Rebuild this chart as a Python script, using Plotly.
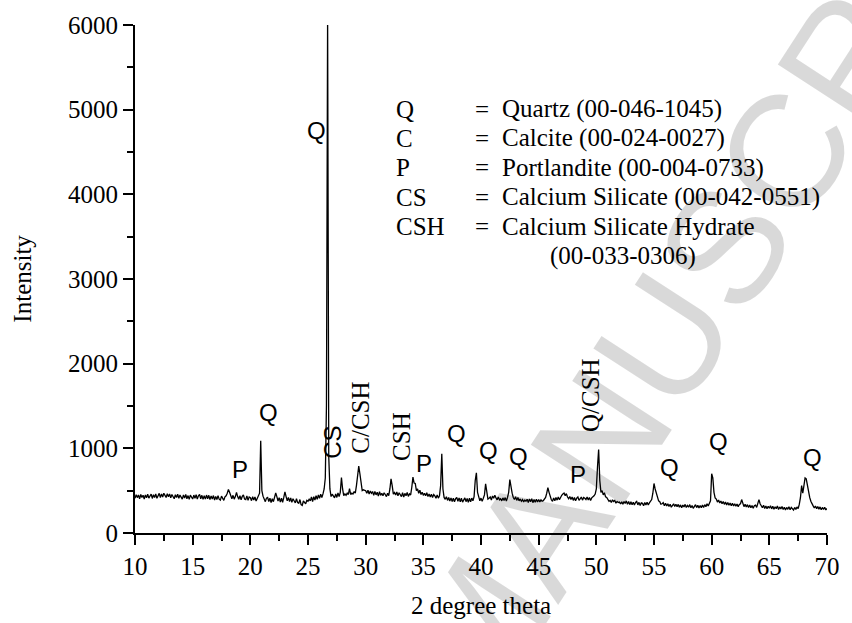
import plotly.graph_objects as go

# ---------------- data ----------------
two_theta_start = 10.0
two_theta_step = 0.1
intensity = [
    # 10.x
    410, 452, 418, 448, 405, 455, 420, 446, 402, 450,
    # 11.x
    415, 458, 412, 445, 460, 408, 452, 420, 462, 410,
    # 12.x
    440, 468, 418, 462, 425, 470, 445, 420, 465, 428,
    # 13.x
    460, 415, 455, 430, 405, 452, 418, 458, 410, 448,
    # 14.x
    425, 400, 450, 412, 455, 405, 442, 398, 448, 415,
    # 15.x
    402, 448, 410, 452, 400, 440, 455, 405, 445, 398,
    # 16.x
    440, 400, 448, 405, 445, 396, 438, 402, 442, 390,
    # 17.x
    432, 395, 440, 400, 388, 435, 398, 385, 428, 440,
    # 18.x
    470, 515, 480, 425, 405, 445, 400, 430, 478, 430,
    # 19.x
    398, 440, 392, 432, 450, 400, 395, 438, 385, 425,
    # 20.x
    418, 382, 428, 390, 425, 378, 415, 432, 470, 1090,
    # 21.x
    500, 435, 392, 370, 412, 420, 372, 410, 360, 405,
    # 22.x
    370, 415, 472, 430, 378, 418, 365, 410, 362, 420,
    # 23.x
    485, 430, 380, 420, 372, 415, 362, 405, 372, 355,
    # 24.x
    405, 360, 352, 395, 335, 325, 378, 365, 345, 385,
    # 25.x
    375, 400, 380, 425, 372, 428, 390, 440, 398, 450,
    # 26.x
    410, 458, 420, 462, 520, 650, 1500, 6100, 900, 520,
    # 27.x
    430, 458, 440, 415, 462, 420, 472, 430, 480, 655,
    # 28.x
    520, 440, 462, 445, 470, 455, 525, 455, 470, 460,
    # 29.x
    490, 470, 560, 720, 790, 700, 560, 500, 510, 505,
    # 30.x
    500, 470, 505, 460, 495, 470, 490, 445, 492, 450,
    # 31.x
    482, 435, 488, 445, 470, 440, 475, 455, 430, 470,
    # 32.x
    440, 520, 640, 560, 460, 478, 448, 485, 440, 475,
    # 33.x
    455, 430, 475, 425, 468, 440, 478, 432, 462, 450,
    # 34.x
    540, 660, 590, 585, 500, 520, 470, 505, 455, 480,
    # 35.x
    445, 470, 440, 475, 430, 462, 425, 458, 420, 455,
    # 36.x
    438, 410, 450, 412, 440, 560, 935, 520, 420, 398,
    # 37.x
    428, 385, 420, 378, 415, 372, 410, 370, 405, 420,
    # 38.x
    375, 415, 368, 410, 365, 402, 415, 370, 408, 362,
    # 39.x
    410, 368, 412, 380, 430, 620, 710, 480, 420, 380,
    # 40.x
    412, 375, 410, 450, 580, 470, 400, 410, 425, 390,
    # 41.x
    438, 410, 445, 415, 392, 425, 392, 405, 380, 415,
    # 42.x
    385, 418, 378, 420, 480, 630, 520, 470, 420, 395,
    # 43.x
    428, 385, 420, 380, 402, 375, 395, 368, 390, 375,
    # 44.x
    398, 360, 402, 368, 405, 358, 395, 362, 400, 365,
    # 45.x
    395, 368, 392, 375, 382, 398, 420, 470, 535, 480,
    # 46.x
    420, 392, 375, 415, 380, 420, 388, 425, 392, 430,
    # 47.x
    445, 462, 472, 440, 465, 425, 405, 432, 395, 425,
    # 48.x
    385, 420, 380, 412, 425, 385, 415, 425, 388, 420,
    # 49.x
    410, 395, 425, 390, 420, 385, 415, 425, 440, 460,
    # 50.x
    520, 780, 985, 620, 480, 500, 450, 475, 428, 420,
    # 51.x
    392, 375, 385, 360, 392, 372, 385, 352, 372, 360,
    # 52.x
    365, 342, 368, 340, 372, 350, 380, 338, 372, 335,
    # 53.x
    368, 335, 362, 330, 360, 372, 332, 362, 325, 355,
    # 54.x
    350, 322, 360, 332, 362, 330, 355, 372, 395, 470,
    # 55.x
    585, 520, 470, 440, 380, 370, 340, 345, 358, 322,
    # 56.x
    352, 318, 345, 312, 340, 305, 335, 345, 312, 340,
    # 57.x
    310, 338, 305, 332, 298, 330, 308, 338, 302, 325,
    # 58.x
    305, 335, 298, 325, 292, 322, 335, 300, 328, 295,
    # 59.x
    325, 298, 330, 302, 335, 310, 345, 318, 350, 380,
    # 60.x
    700, 650, 480, 415, 400, 365, 390, 355, 378, 345,
    # 61.x
    372, 338, 365, 332, 360, 328, 355, 322, 352, 320,
    # 62.x
    345, 315, 342, 310, 338, 345, 395, 335, 312, 338,
    # 63.x
    308, 335, 300, 330, 298, 325, 292, 322, 330, 302,
    # 64.x
    340, 395, 345, 312, 298, 328, 290, 318, 288, 315,
    # 65.x
    292, 322, 285, 315, 280, 310, 288, 318, 278, 308,
    # 66.x
    285, 312, 278, 305, 272, 302, 280, 310, 275, 302,
    # 67.x
    282, 272, 302, 278, 308, 288, 340, 420, 560, 470,
    # 68.x
    560, 650, 640, 560, 470, 420, 375, 335, 320, 295,
    # 69.x
    318, 288, 312, 282, 308, 275, 302, 278, 305, 272,
    # 70.0
    290,
]
two_theta = [round(two_theta_start + i * two_theta_step, 2) for i in range(len(intensity))]

x_ticks = [10, 15, 20, 25, 30, 35, 40, 45, 50, 55, 60, 65, 70]
y_ticks = [0, 1000, 2000, 3000, 4000, 5000, 6000]

peak_labels = ["P", "Q", "Q", "CS", "C/CSH", "CSH", "P", "Q", "Q", "Q", "P", "Q/CSH", "Q", "Q", "Q"]
peak_label_x = [19.12, 21.57, 25.71, 27.16, 29.56, 33.15, 35.04, 37.86, 40.69, 43.26, 48.39, 49.51, 56.35, 60.63, 68.76]
peak_label_y = [750, 1427, 4749, 1076, 1357, 1135, 818, 1181, 971, 900, 690, 1626, 772, 1076, 889]

key_abbr = ["Q", "C", "P", "CS", "CSH"]
key_desc = ["Quartz (00-046-1045)", "Calcite (00-024-0027)", "Portlandite (00-004-0733)",
            "Calcium Silicate (00-042-0551)", "Calcium Silicate Hydrate"]
key_extra = "(00-033-0306)"

# ---------------- layout helpers ----------------
W, H = 852, 623
L, R, T, B = 135, 15, 20, 90
PW, PH = W - L - R, H - T - B


def px(xp):
    return (xp - L) / PW


def py(yp):
    return (T + PH - yp) / PH


SERIF = "Liberation Serif, Times New Roman, serif"
SANS = "Liberation Sans, Arial, sans-serif"

fig = go.Figure()
fig.add_trace(go.Scatter(x=two_theta, y=intensity, mode="lines",
                         line=dict(color="black", width=1.3), showlegend=False,
                         hoverinfo="skip"))

ann = []
# watermark
ann.append(dict(text="MANUSCRIPT", xref="paper", yref="paper", x=px(736), y=py(240),
                xanchor="center", yanchor="middle", showarrow=False, textangle=-57,
                font=dict(family=SANS, size=160, color="rgba(0,0,0,0.15)")))

serif_rot = {"C/CSH", "CSH", "Q/CSH"}
for t, xv, yv in zip(peak_labels, peak_label_x, peak_label_y):
    if t in serif_rot:
        f, ang = dict(family=SERIF, size=25, color="black"), -90
    elif t == "CS":
        f, ang = dict(family=SANS, size=24, color="black"), -90
    else:
        f, ang = dict(family=SANS, size=24, color="black"), 0
    ann.append(dict(text=t, x=xv, y=yv, xref="x", yref="y", showarrow=False,
                    xanchor="center", yanchor="middle", textangle=ang, font=f))

kf = dict(family=SERIF, size=25, color="black")
for i, (a, d) in enumerate(zip(key_abbr, key_desc)):
    yy = py(105 + 29.6 * i)
    ann.append(dict(text=a, xref="paper", yref="paper", x=px(398), y=yy, xanchor="left",
                    yanchor="middle", showarrow=False, font=kf))
    ann.append(dict(text="=", xref="paper", yref="paper", x=px(478), y=yy, xanchor="left",
                    yanchor="middle", showarrow=False, font=kf))
    ann.append(dict(text=d, xref="paper", yref="paper", x=px(505), y=yy, xanchor="left",
                    yanchor="middle", showarrow=False, font=kf))
ann.append(dict(text=key_extra, xref="paper", yref="paper", x=px(630), y=py(105 + 29.6 * 5),
                xanchor="center", yanchor="middle", showarrow=False, font=kf))

# axis titles
ann.append(dict(text="Intensity", xref="paper", yref="paper", x=px(20), y=0.5, textangle=-90,
                xanchor="center", yanchor="middle", showarrow=False, font=kf))
ann.append(dict(text="2 degree theta", xref="paper", yref="paper", x=0.5, y=py(606),
                xanchor="center", yanchor="middle", showarrow=False, font=kf))

fig.update_layout(
    width=W, height=H, margin=dict(l=L, r=R, t=T, b=B, pad=0),
    paper_bgcolor="white", plot_bgcolor="white",
    annotations=ann, showlegend=False,
    xaxis=dict(range=[10, 70], tickmode="array", tickvals=x_ticks, ticks="outside",
               ticklen=10, tickwidth=2, tickcolor="black", showline=True, linewidth=2,
               linecolor="black", showgrid=False, zeroline=False,
               tickfont=dict(family=SERIF, size=25, color="black"),
               minor=dict(dtick=2.5, tick0=10, ticks="outside", ticklen=6, tickwidth=2,
                          tickcolor="black", showgrid=False)),
    yaxis=dict(range=[0, 6000], tickmode="array", tickvals=y_ticks, ticks="outside",
               ticklen=10, tickwidth=2, tickcolor="black", showline=True, linewidth=2,
               linecolor="black", showgrid=False, zeroline=False,
               tickfont=dict(family=SERIF, size=25, color="black"),
               minor=dict(dtick=500, tick0=0, ticks="outside", ticklen=6, tickwidth=2,
                          tickcolor="black", showgrid=False)),
)

fig.write_html("out.html")
